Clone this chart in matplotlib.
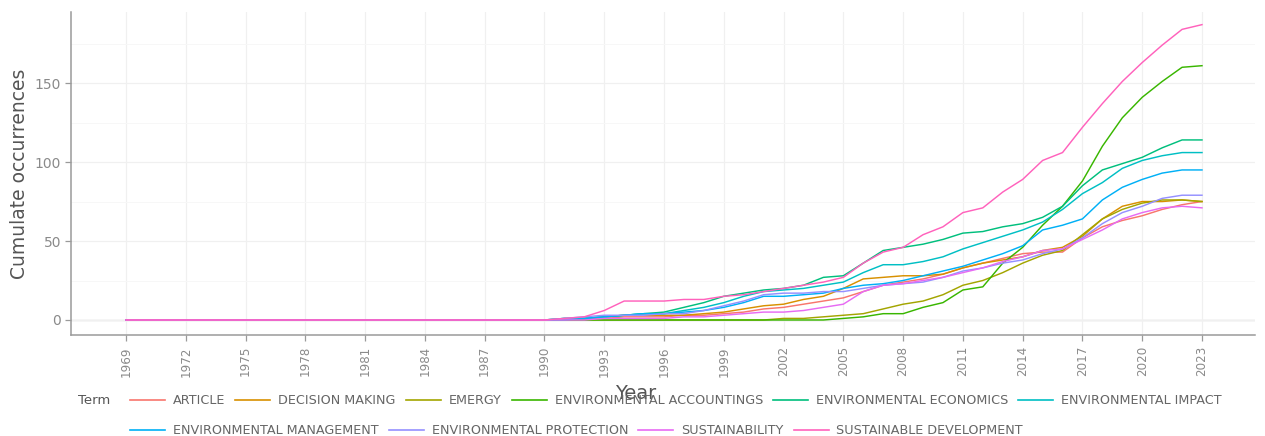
import matplotlib
matplotlib.use("Agg")
import matplotlib.pyplot as plt
from matplotlib.lines import Line2D

# ---- data -------------------------------------------------------------
years = list(range(1969, 2024))

terms = [
    "ARTICLE",
    "DECISION MAKING",
    "EMERGY",
    "ENVIRONMENTAL ACCOUNTINGS",
    "ENVIRONMENTAL ECONOMICS",
    "ENVIRONMENTAL IMPACT",
    "ENVIRONMENTAL MANAGEMENT",
    "ENVIRONMENTAL PROTECTION",
    "SUSTAINABILITY",
    "SUSTAINABLE DEVELOPMENT",
]

article = [0, 0, 0, 0, 0, 0, 0, 0, 0, 0, 0, 0, 0, 0, 0, 0, 0, 0, 0, 0, 0,
           0, 0, 1, 1, 2, 2, 2, 3, 3, 4, 5, 7, 8, 10, 12, 14, 18, 22, 24, 26,
           29, 33, 36, 39, 42, 43, 43, 52, 59, 63, 66, 70, 73, 75]
decision_making = [0, 0, 0, 0, 0, 0, 0, 0, 0, 0, 0, 0, 0, 0, 0, 0, 0, 0, 0, 0, 0,
                   0, 0, 1, 2, 3, 3, 3, 3, 4, 5, 7, 9, 10, 13, 15, 20, 26, 27, 28, 28,
                   29, 33, 36, 38, 40, 44, 46, 53, 64, 72, 75, 75, 76, 75]
emergy = [0, 0, 0, 0, 0, 0, 0, 0, 0, 0, 0, 0, 0, 0, 0, 0, 0, 0, 0, 0, 0,
          0, 0, 0, 0, 0, 0, 0, 0, 0, 0, 0, 0, 1, 1, 2, 3, 4, 7, 10, 12,
          16, 22, 25, 30, 36, 41, 44, 54, 64, 70, 74, 76, 76, 75]
env_accountings = [0, 0, 0, 0, 0, 0, 0, 0, 0, 0, 0, 0, 0, 0, 0, 0, 0, 0, 0, 0, 0,
                   0, 0, 0, 0, 0, 0, 0, 0, 0, 0, 0, 0, 0, 0, 0, 1, 2, 4, 4, 8,
                   11, 19, 21, 36, 46, 60, 72, 88, 110, 128, 141, 151, 160, 161]
env_economics = [0, 0, 0, 0, 0, 0, 0, 0, 0, 0, 0, 0, 0, 0, 0, 0, 0, 0, 0, 0, 0,
                 0, 1, 1, 2, 3, 4, 5, 8, 11, 15, 17, 19, 20, 22, 27, 28, 36, 44, 46, 48,
                 51, 55, 56, 59, 61, 65, 72, 85, 95, 99, 103, 109, 114, 114]
env_impact = [0, 0, 0, 0, 0, 0, 0, 0, 0, 0, 0, 0, 0, 0, 0, 0, 0, 0, 0, 0, 0,
              0, 1, 1, 2, 3, 4, 4, 6, 8, 11, 15, 18, 19, 20, 22, 24, 30, 35, 35, 37,
              40, 45, 49, 53, 57, 62, 70, 80, 87, 96, 101, 104, 106, 106]
env_management = [0, 0, 0, 0, 0, 0, 0, 0, 0, 0, 0, 0, 0, 0, 0, 0, 0, 0, 0, 0, 0,
                  0, 0, 1, 2, 3, 4, 4, 5, 6, 8, 11, 15, 15, 16, 17, 20, 22, 23, 25, 28,
                  31, 34, 38, 42, 47, 57, 60, 64, 76, 84, 89, 93, 95, 95]
env_protection = [0, 0, 0, 0, 0, 0, 0, 0, 0, 0, 0, 0, 0, 0, 0, 0, 0, 0, 0, 0, 0,
                  0, 1, 2, 3, 3, 3, 4, 4, 6, 9, 12, 16, 17, 17, 18, 18, 20, 22, 23, 24,
                  27, 31, 33, 36, 38, 42, 45, 52, 61, 68, 72, 77, 79, 79]
sustainability = [0, 0, 0, 0, 0, 0, 0, 0, 0, 0, 0, 0, 0, 0, 0, 0, 0, 0, 0, 0, 0,
                  0, 0, 0, 1, 1, 1, 1, 2, 2, 3, 4, 5, 5, 6, 8, 10, 18, 22, 23, 25,
                  27, 30, 33, 37, 40, 44, 45, 51, 57, 64, 68, 71, 72, 71]
sustainable_development = [0, 0, 0, 0, 0, 0, 0, 0, 0, 0, 0, 0, 0, 0, 0, 0, 0, 0, 0, 0, 0,
                           0, 1, 2, 6, 12, 12, 12, 13, 13, 15, 16, 18, 20, 22, 24, 27, 36, 43, 46, 54,
                           59, 68, 71, 81, 89, 101, 106, 122, 137, 151, 163, 174, 184, 187]

series = [article, decision_making, emergy, env_accountings, env_economics,
          env_impact, env_management, env_protection, sustainability,
          sustainable_development]

xticks = list(range(1969, 2024, 3))
yticks = [0, 50, 100, 150]

colors = ["#F8766D", "#D89000", "#A3A500", "#39B600", "#00BF7D",
          "#00BFC4", "#00B0F6", "#9590FF", "#E76BF3", "#FF62BC"]

# ---- figure -----------------------------------------------------------
W, H = 1265, 436
fig = plt.figure(figsize=(W / 100, H / 100), dpi=100)
fig.patch.set_facecolor("white")

ax = fig.add_axes([71 / W, 1 - 335 / H, (1255 - 71) / W, (335 - 12) / H])
ax.set_xlim(1966.24, 2025.66)
ax.set_ylim(-9.5, 195)

# grid
ax.set_xticks(xticks)
ax.set_yticks(yticks)
ax.set_yticks([25, 75, 125, 175], minor=True)
ax.grid(True, which="major", color="#f0f0f0", linewidth=0.9, zorder=0)
ax.grid(True, which="minor", axis="y", color="#f7f7f7", linewidth=0.7, zorder=0)
ax.axhline(0, color="#d6d6d6", linewidth=1.0, zorder=1)

for vals, col in zip(series, colors):
    ax.plot(years, vals, color=col, linewidth=1.05, zorder=3,
            solid_joinstyle="round")

# axes styling
for side in ("top", "right"):
    ax.spines[side].set_visible(False)
for side in ("left", "bottom"):
    ax.spines[side].set_color("#9a9a9a")
    ax.spines[side].set_linewidth(1.1)

ax.tick_params(axis="both", which="major", color="#9a9a9a", length=4,
               width=0.9, direction="out")
ax.tick_params(axis="both", which="minor", length=0)
ax.set_yticklabels([str(v) for v in yticks], fontsize=10, color="#8a8a8a",
                   family="DejaVu Sans")
ax.set_xticklabels([str(v) for v in xticks], fontsize=8.6, color="#8a8a8a",
                   rotation=90, family="DejaVu Sans")
ax.tick_params(axis="y", pad=3)
ax.tick_params(axis="x", pad=4)

ax.set_ylabel("Cumulate occurrences", fontsize=13.5, color="#555555",
              family="DejaVu Sans", labelpad=4)
fig.text(636 / W, 1 - 393 / H, "Year", fontsize=14, color="#555555",
         family="DejaVu Sans", ha="center", va="center")

# ---- legend (two rows, entries laid out left to right) ----------------
renderer = fig.canvas.get_renderer()
fig.text(78 / W, 1 - 400 / H, "Term", fontsize=9.5, color="#555555",
         family="DejaVu Sans", ha="left", va="center")

rows = [list(range(0, 6)), list(range(6, 10))]
row_y = [400, 430]
key_len, key_gap, entry_gap = 35, 8, 10
for idx_list, ypix in zip(rows, row_y):
    x = 130
    for i in idx_list:
        yf = 1 - ypix / H
        fig.add_artist(Line2D([x / W, (x + key_len) / W], [yf, yf],
                              transform=fig.transFigure, color=colors[i],
                              linewidth=1.2))
        tx = x + key_len + key_gap
        t = fig.text(tx / W, yf, terms[i], fontsize=9.2, color="#666666",
                     family="DejaVu Sans", ha="left", va="center")
        wpx = t.get_window_extent(renderer).width
        x = tx + wpx + entry_gap

fig.savefig("out.png", dpi=100, facecolor="white")
